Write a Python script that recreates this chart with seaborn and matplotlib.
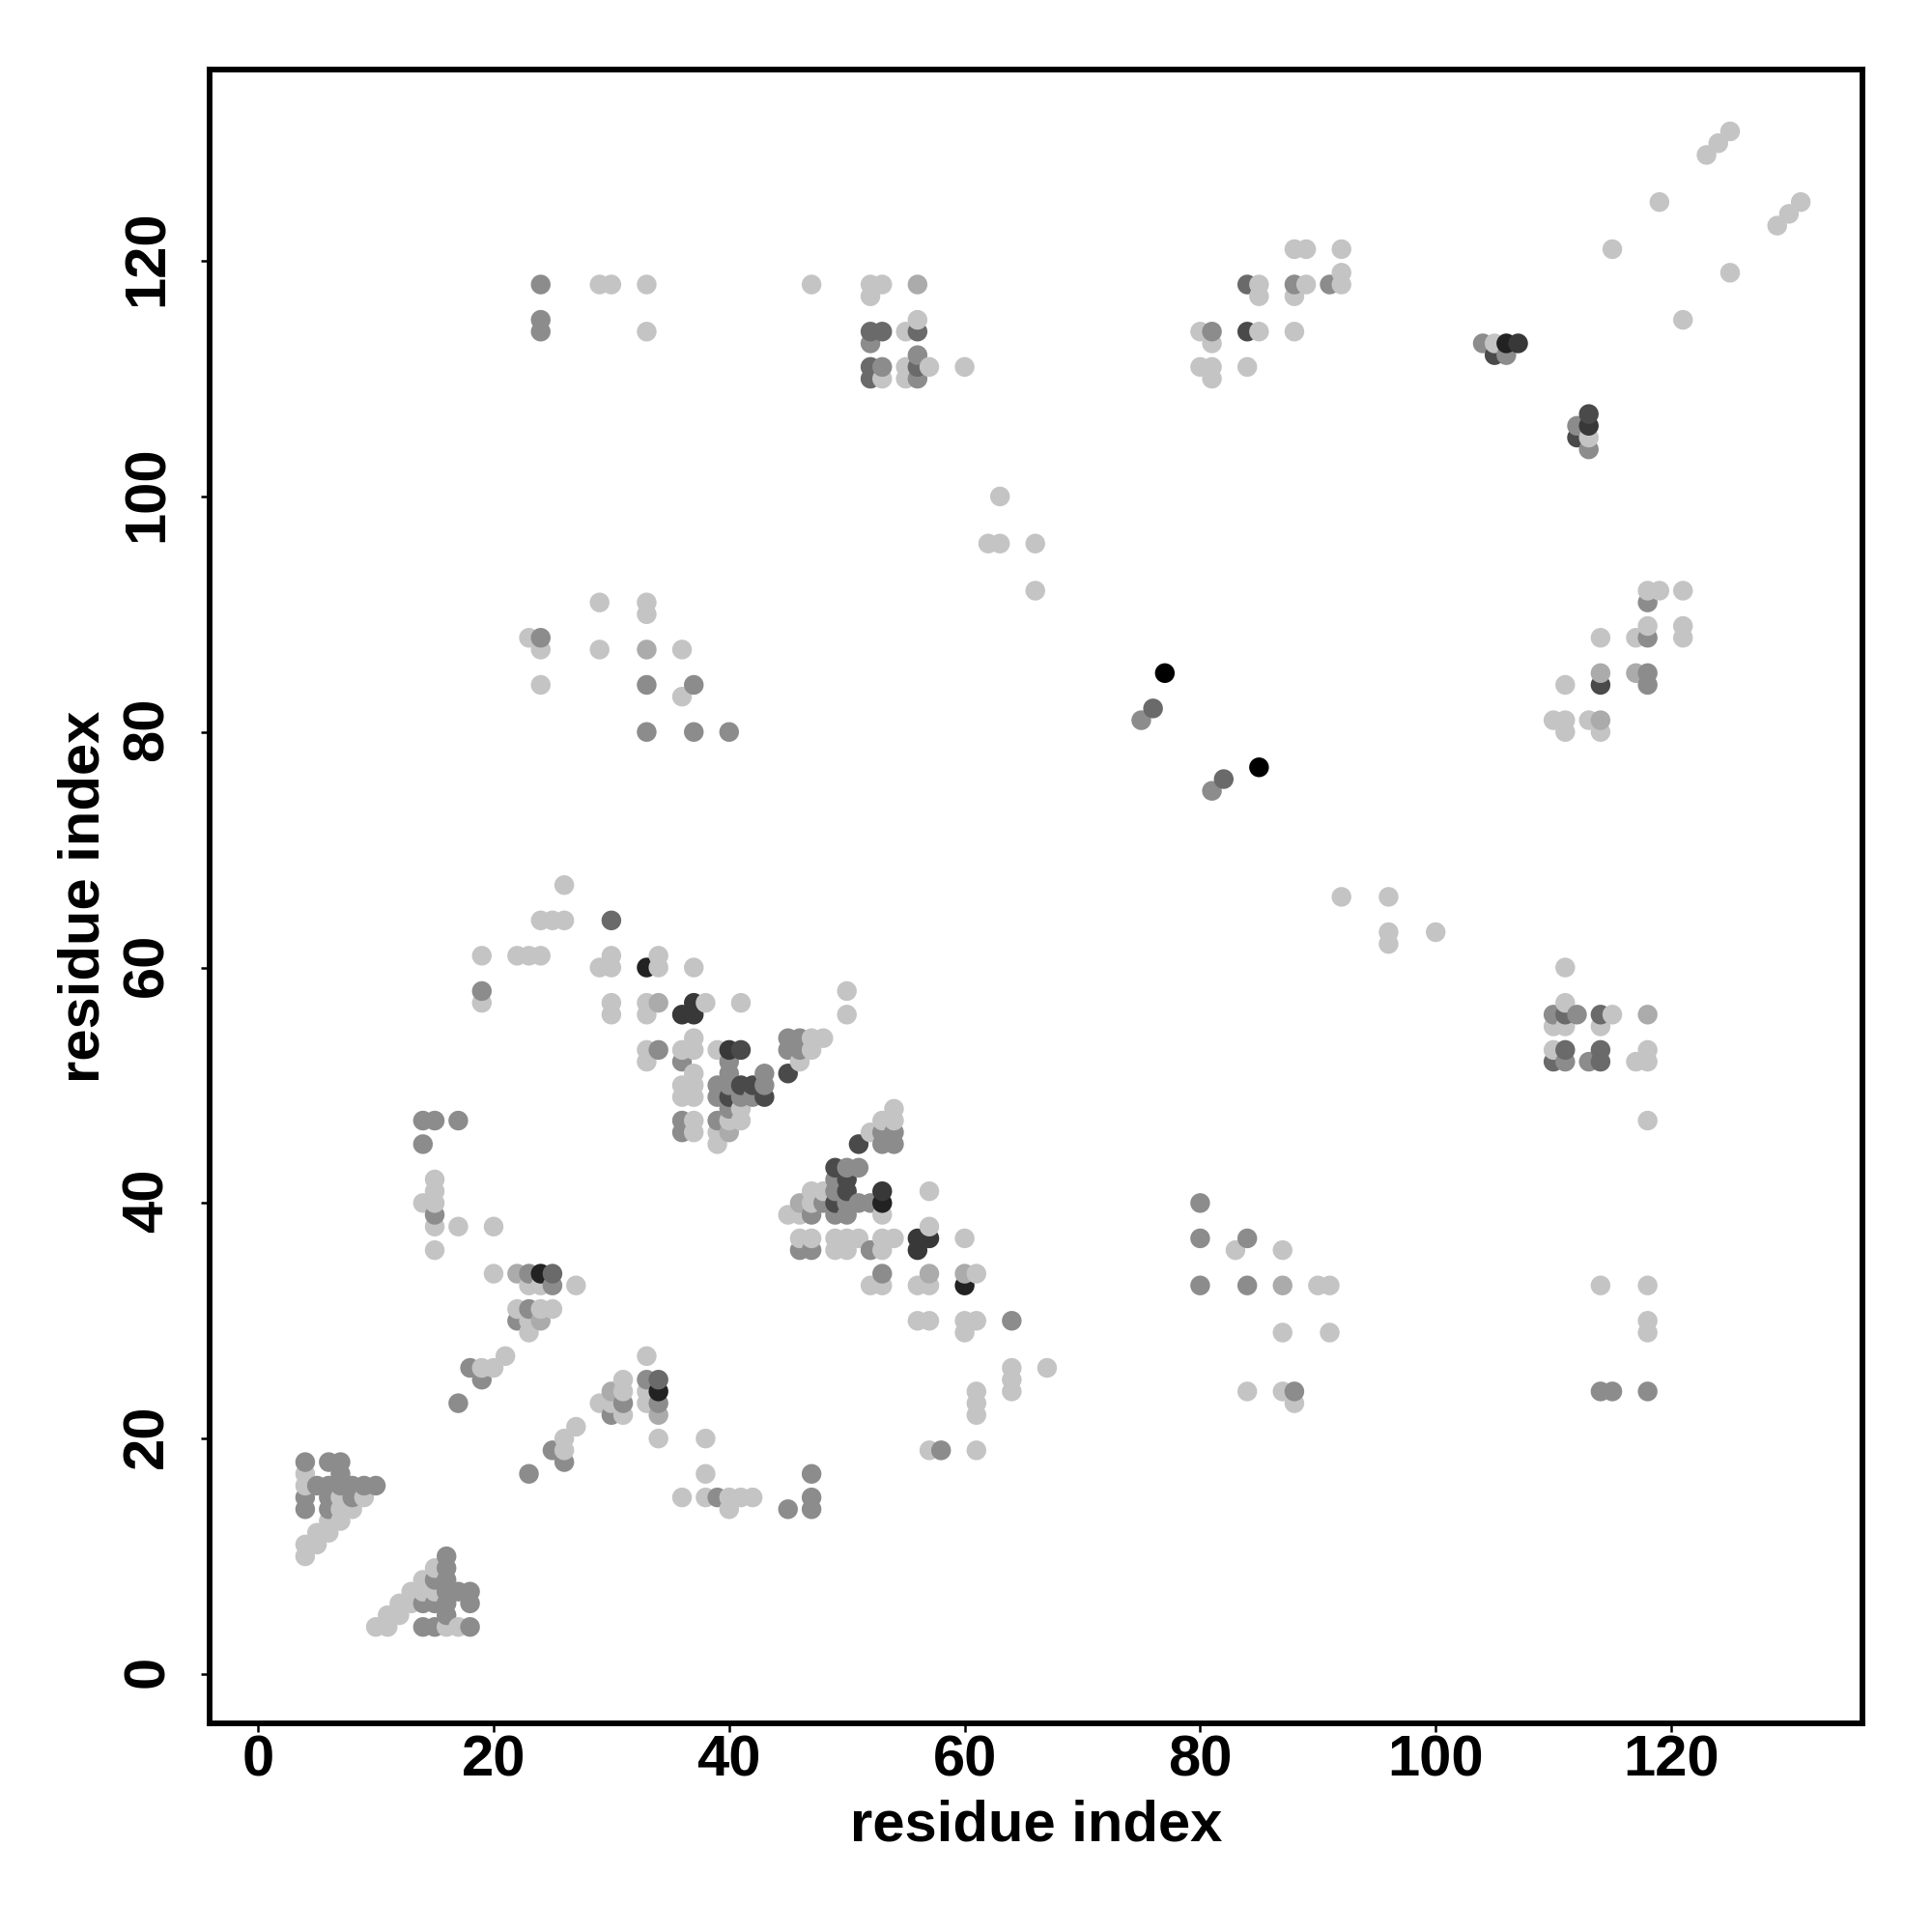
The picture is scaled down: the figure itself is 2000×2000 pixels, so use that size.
import pandas as pd
import seaborn as sns
import matplotlib.pyplot as plt
from matplotlib.transforms import ScaledTranslation

# contact map, points grouped by grey level
light_x = [4, 4, 9, 7, 7, 8, 7, 6, 6, 5, 5, 4, 4,
           10, 11, 16, 17, 11, 12, 12, 13, 13, 14, 15, 14, 15,
           19, 20, 21, 15, 20, 23, 24, 27, 22, 24, 25, 23, 23,
           27, 26, 26, 33, 31, 31, 33, 29, 30, 33, 31, 34,
           38, 38, 36, 38, 40, 40, 41, 42,
           29, 30, 30, 34, 34, 37, 30, 30, 33, 33, 38, 41, 50, 50,
           37, 47, 48, 33, 36, 37, 39, 47, 33, 46, 37, 36, 37, 36, 37, 41, 37, 40, 41, 37, 39, 39,
           54, 53, 54, 52, 47, 48, 57, 47, 45, 46, 53, 57, 46, 47, 49, 50, 51, 53, 54, 60, 49, 50, 53,
           61, 52, 53, 56, 57, 56, 57, 60, 61, 60, 64, 67, 64, 64, 61, 61, 61, 61, 57,
           83, 87, 87, 90, 91, 91, 84, 87, 88, 114, 118, 118, 118, 118,
           15, 15, 14, 15, 15, 17, 20,
           19, 19, 22, 23, 24, 24, 25, 26, 26,
           23, 24, 24, 29, 29, 33, 33, 36, 36,
           63, 62, 63, 66, 66,
           92, 96, 96, 96, 100,
           111, 111, 115, 110, 111, 114, 110, 118, 117, 118,
           111, 110, 111, 111, 113, 114, 114, 117, 118, 118, 119, 121, 121, 121,
           123, 124, 125, 119, 115, 125, 121, 129, 130, 131,
           113, 105,
           88, 89, 92, 92, 92, 89, 88, 88, 85, 85, 85, 84, 80, 81, 80, 81, 81,
           52, 53, 52, 56, 55, 55, 57, 60, 53, 55,
           29, 30, 33, 33, 47]
light_y = [17, 16, 15, 15, 14, 14, 13, 13, 12, 12, 11, 11, 10,
           4, 4, 4, 4, 5, 5, 6, 6, 7, 7, 7, 8, 9,
           26, 26, 27, 36, 34, 33, 33, 33, 31, 31, 31, 30, 29,
           21, 20, 19, 27, 25, 24, 24, 23, 23, 23, 22, 20,
           20, 17, 15, 15, 15, 14, 15, 15,
           60, 60, 61, 60, 61, 60, 57, 56, 57, 56, 57, 57, 58, 56,
           54, 54, 54, 53, 53, 53, 53, 53, 52, 52, 51, 50, 50, 49, 49, 48, 47, 47, 47, 46, 46, 45,
           48, 47, 47, 46, 41, 41, 41, 40, 39, 39, 39, 38, 37, 37, 37, 37, 37, 37, 37, 37, 36, 36, 36,
           34, 33, 33, 33, 33, 30, 30, 30, 30, 29, 26, 26, 25, 24, 24, 23, 22, 19, 19,
           36, 36, 29, 33, 33, 29, 24, 24, 23, 33, 33, 30, 29, 47,
           42, 41, 40, 40, 38, 38, 38,
           61, 57, 61, 61, 61, 64, 64, 64, 67,
           88, 87, 84, 91, 87, 91, 90, 87, 83,
           100, 96, 96, 96, 92,
           66, 66, 63, 62, 63,
           60, 57, 56, 55, 55, 55, 53, 53, 52, 52,
           84, 81, 81, 80, 81, 80, 88, 88, 89, 92, 92, 92, 89, 88,
           129, 130, 131, 125, 121, 119, 115, 123, 124, 125,
           105, 113,
           121, 121, 121, 119, 118, 118, 117, 114, 118, 117, 114, 111, 114, 113, 111, 111, 110,
           118, 118, 117, 115, 114, 111, 111, 111, 110, 110,
           118, 118, 118, 114, 118]

pale_x = [22, 24, 30, 34, 40, 57, 60, 87, 114, 114, 117, 34, 46, 118, 56, 33]
pale_y = [34, 30, 24, 22, 46, 34, 34, 33, 81, 85, 85, 57, 40, 56, 118, 87]

mid_x = [4, 4, 4, 6, 7, 7, 5, 6, 7, 8, 9, 10, 6, 6, 8,
         14, 15, 18, 16, 14, 15, 16, 18, 16, 17, 18, 15, 16, 16, 16,
         17, 23, 19, 18, 23, 25, 23, 22, 25, 26, 33, 31, 34, 30,
         39, 45, 47, 47, 47,
         19, 34, 45, 46, 45, 46, 36, 40, 40, 43, 39, 40, 43, 39, 41, 42, 40, 36, 39, 36,
         53, 54, 53, 54, 50, 51, 49, 49, 48, 50, 51, 52, 47, 49, 50, 46, 47, 52, 53, 64,
         58, 80, 80, 80, 84, 84, 88, 114, 115, 118,
         14, 15, 17, 14, 15,
         33, 33, 37, 37, 40, 24,
         75, 81,
         110, 112, 111, 113,
         118, 118, 118, 118,
         112, 113, 104, 106,
         91, 88, 81,
         52, 53, 56, 56,
         24, 24, 24]
mid_y = [18, 15, 14, 18, 18, 17, 16, 16, 16, 16, 16, 16, 15, 14, 15,
         4, 4, 4, 5, 6, 6, 6, 6, 7, 7, 7, 8, 8, 9, 10,
         23, 17, 25, 26, 34, 33, 31, 30, 19, 18, 25, 23, 23, 22,
         15, 14, 17, 15, 14,
         58, 53, 54, 54, 53, 53, 52, 52, 51, 51, 50, 50, 50, 49, 49, 49, 48, 47, 47, 46,
         46, 46, 45, 45, 43, 43, 42, 41, 40, 40, 40, 40, 39, 39, 39, 36, 36, 36, 34, 30,
         19, 40, 37, 33, 37, 33, 24, 24, 24, 24,
         47, 47, 47, 45, 39,
         84, 80, 84, 80, 80, 88,
         81, 75,
         56, 56, 52, 52,
         88, 85, 84, 91,
         106, 104, 113, 112,
         118, 118, 114,
         113, 111, 112, 110,
         118, 115, 114]

dim_x = [25, 34, 30, 76, 82, 111, 114, 111, 114, 110, 114, 84, 52, 53, 56, 52, 56, 52]
dim_y = [34, 25, 64, 82, 76, 56, 56, 53, 53, 52, 52, 118, 114, 114, 114, 111, 111, 110]

dark_x = [45, 41, 42, 41, 40, 43, 51, 49, 50, 50, 49, 113, 112, 105, 84, 114]
dark_y = [51, 50, 50, 53, 49, 49, 45, 43, 42, 41, 40, 107, 105, 112, 114, 84]

darker_x = [37, 36, 37, 40, 53, 56, 57, 56, 113, 107]
darker_y = [57, 56, 56, 53, 41, 37, 37, 36, 106, 113]

darkest_x = [24, 34, 33, 60, 53, 106]
darkest_y = [34, 24, 60, 33, 40, 113]

black_x = [77, 85]
black_y = [85, 77]

shades = {"#C4C4C4": (light_x, light_y),
          "#ABABAB": (pale_x, pale_y),
          "#8C8C8C": (mid_x, mid_y),
          "#6A6A6A": (dim_x, dim_y),
          "#4A4A4A": (dark_x, dark_y),
          "#383838": (darker_x, darker_y),
          "#222222": (darkest_x, darkest_y),
          "#000000": (black_x, black_y)}

ticks = [0, 20, 40, 60, 80, 100, 120]

frames = [pd.DataFrame({"x": xs, "y": ys, "shade": s}) for s, (xs, ys) in shades.items()]
data = pd.concat(frames).sort_values(["x", "y"], kind="stable")

sns.set_style("ticks")
plt.rcParams["font.family"] = ["Liberation Sans", "DejaVu Sans"]
plt.rcParams["font.weight"] = "bold"

fig = plt.figure(figsize=(10, 10), dpi=200)
ax = fig.add_axes([216.7 / 2000, 1 - 1783.7 / 2000, 1711.3 / 2000, 1711.3 / 2000])

sns.scatterplot(data=data, x="x", y="y", hue="shade", palette={s: s for s in shades},
                s=54, linewidth=0, legend=False, ax=ax)

ax.set_xlim(-4.14, 136.24)
ax.set_ylim(-4.16, 136.22)
ax.set_xticks(ticks)
ax.set_yticks(ticks)
ax.tick_params(axis="both", direction="out", length=3.4, width=0.9, color="black",
               labelsize=21.5, labelcolor="black")
ax.tick_params(axis="x", pad=1)
ax.tick_params(axis="y", pad=9.5)
plt.setp(ax.get_yticklabels(), rotation=90, va="center")
# rotated labels sit a little low otherwise
nudge = ScaledTranslation(0, 2.5 / 200, fig.dpi_scale_trans)
for lab in ax.get_yticklabels():
    lab.set_transform(lab.get_transform() + nudge)
ax.set_xlabel("residue index", fontsize=21.5, fontweight="bold", color="black", labelpad=4)
ax.set_ylabel("residue index", fontsize=21.5, fontweight="bold", color="black", labelpad=4)
for spine in ax.spines.values():
    spine.set_visible(True)
    spine.set_linewidth(2.1)
    spine.set_color("black")

plt.savefig("out.png", dpi=200)
